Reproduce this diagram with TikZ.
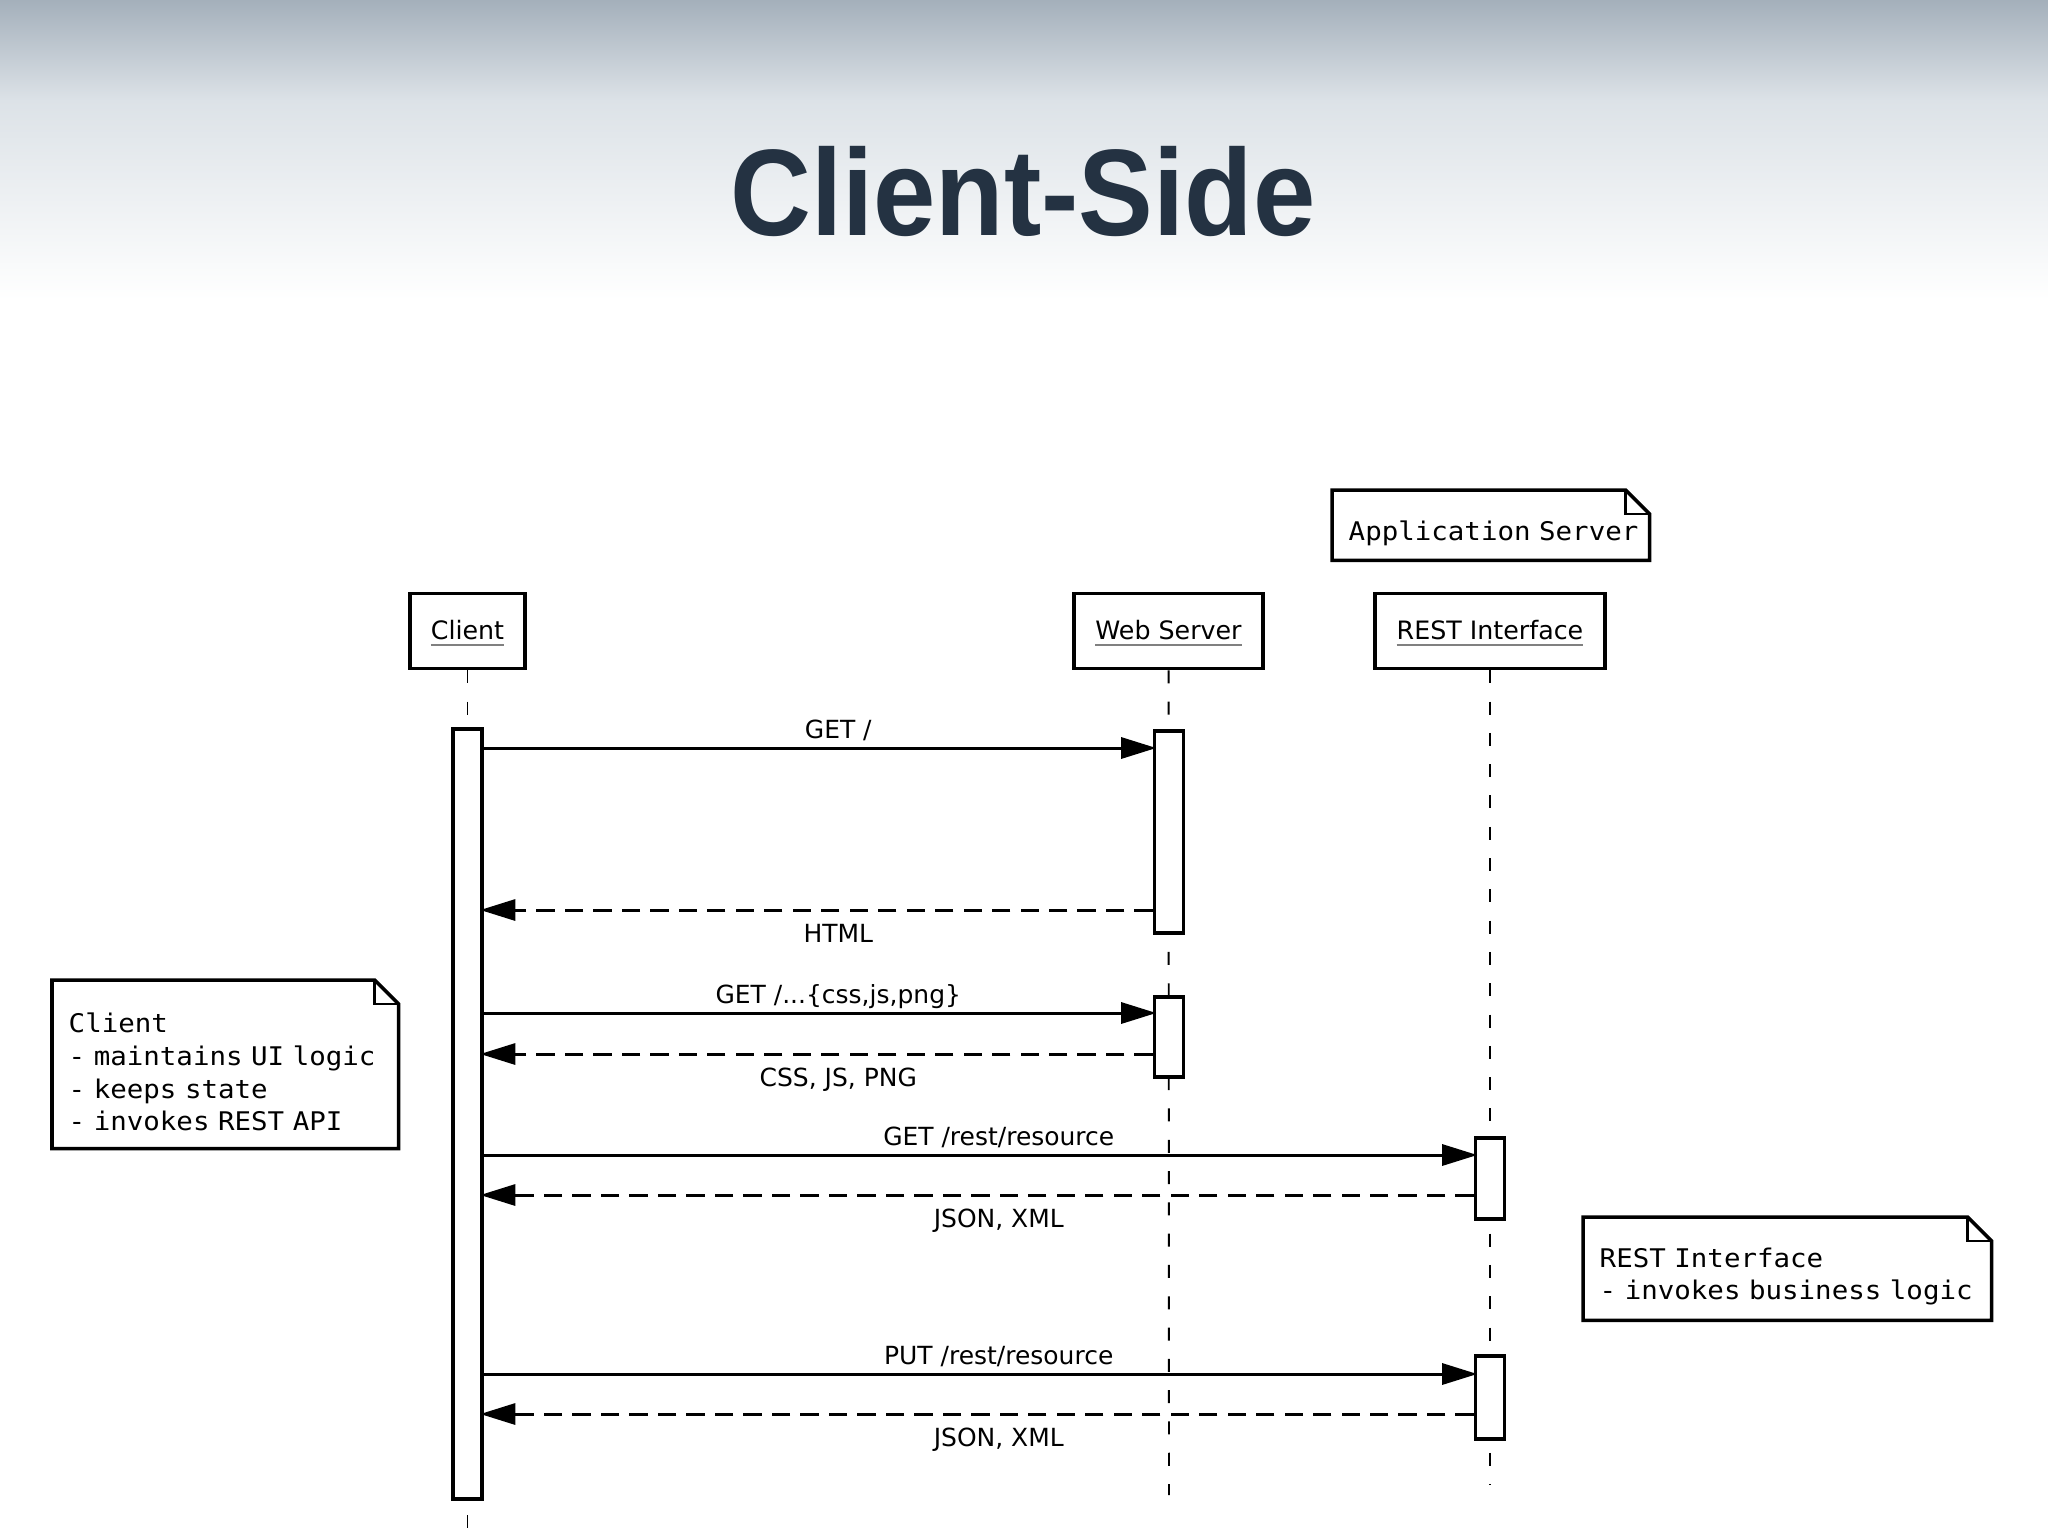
\documentclass[tikz,border=0pt]{standalone}
\usepackage{fontspec}
\setmainfont{DejaVu Sans}
\newfontfamily\monofont[FakeStretch=1.07]{DejaVu Sans Mono}
\newfontfamily\titlefont[FakeStretch=0.91]{Liberation Sans}
\usepackage{tikz}
\usetikzlibrary{positioning, arrows.meta}
\definecolor{titlenavy}{HTML}{243242}
\definecolor{skygray}{HTML}{A4B0BB}
\definecolor{mistgray}{HTML}{DCE2E7}

\newcommand{\lifename}[1]{\textcolor{gray}{\underline{\textcolor{black}{#1}}}}
\newcommand{\foldnote}[1]{%
  \draw[line width=1pt] (#1.north west) -- ([xshift=-0.24cm]#1.north east)
    -- ([yshift=-0.24cm]#1.north east) -- (#1.south east) -- (#1.south west) -- cycle;
  \draw[line width=0.8pt] ([xshift=-0.24cm]#1.north east) |- ([yshift=-0.24cm]#1.north east);
}

\begin{document}
\begin{tikzpicture}[x=0.01cm, y=-0.01cm,
    head/.style={draw, line width=1pt, minimum height=0.75cm, inner sep=0pt,
                 font=\fontsize{7.2}{8}\selectfont, text depth=0.5pt},
    bar/.style={draw, fill=white, line width=1pt, minimum width=0.29cm, inner sep=0pt, anchor=north},
    life/.style={line width=0.55pt, dash pattern=on 3.7pt off 5.2pt},
    call/.style={line width=0.85pt, shorten >=-1pt, -{Triangle[length=10pt, width=6pt]}},
    reply/.style={call, dash pattern=on 5.2pt off 2.9pt},
    msgup/.style={anchor=base, yshift=0.1cm, xshift=0.2cm, font=\fontsize{7.1}{8}\selectfont},
    msgdown/.style={anchor=base, yshift=-0.32cm, xshift=0.2cm, font=\fontsize{7.1}{8}\selectfont},
    note/.style={anchor=north west, align=left, inner xsep=0.16cm, inner ysep=0pt,
                 font=\monofont\fontsize{7.3}{9.3}\selectfont,
                 execute at begin node={\rule{0pt}{10pt}}}]

  \useasboundingbox (0,0) rectangle (2048,1536);
  \fill[white] (0,0) rectangle (2048,1536);
  \shade[top color=skygray, bottom color=mistgray] (0,0) rectangle (2048,100);
  \shade[top color=mistgray, bottom color=white] (0,100) rectangle (2048,300);

  \node[font=\titlefont\bfseries\fontsize{35}{40}\selectfont, text=titlenavy, anchor=base]
    (title) at (1023,235) {Client-Side};

  % lifeline heads
  \node[head, minimum width=1.15cm] (hClient) at (467.5,631) {\lifename{Client}};
  \node[head, minimum width=1.89cm] (hWeb) at (1168.5,631) {\lifename{Web Server}};
  \node[head, minimum width=2.30cm] (hRest) at (1490,631) {\lifename{REST Interface}};

  \coordinate (cEnd) at (467.5,1536);
  \coordinate (wEnd) at (1169,1495);
  \coordinate (rEnd) at (1490,1485);
  \draw[life] (hClient) -- (cEnd);
  \draw[life] (hWeb) -- (wEnd);
  \draw[life] (hRest) -- (rEnd);

  % activations
  \node[bar, minimum height=7.70cm] (actC) at (467.5,727) {};
  \node[bar, minimum height=2.02cm] (actW1) at (1169,729) {};
  \node[bar, minimum height=0.80cm] (actW2) at (1169,995) {};
  \node[bar, minimum height=0.81cm] (actR1) at (1490,1136) {};
  \node[bar, minimum height=0.83cm] (actR2) at (1490,1354) {};

  % messages
  \coordinate (m1) at (0,748);
  \coordinate (m2) at (0,910);
  \coordinate (m3) at (0,1013);
  \coordinate (m4) at (0,1054);
  \coordinate (m5) at (0,1155);
  \coordinate (m6) at (0,1195);
  \coordinate (m7) at (0,1374);
  \coordinate (m8) at (0,1414);

  \draw[call] (actC.east |- m1) -- node[msgup] (tGet) {GET /} (actW1.west |- m1);
  \draw[reply] (actW1.west |- m2) -- node[msgdown] (tHtml) {HTML} (actC.east |- m2);
  \draw[call] (actC.east |- m3) -- node[msgup] (tStatic) {GET /...\{css,js,png\}} (actW2.west |- m3);
  \draw[reply] (actW2.west |- m4) -- node[msgdown] (tFiles) {CSS, JS, PNG} (actC.east |- m4);
  \draw[call] (actC.east |- m5) -- node[msgup] (tRestGet) {GET /rest/resource} (actR1.west |- m5);
  \draw[reply] (actR1.west |- m6) -- node[msgdown] (tJson1) {JSON, XML} (actC.east |- m6);
  \draw[call] (actC.east |- m7) -- node[msgup] (tRestPut) {PUT /rest/resource} (actR2.west |- m7);
  \draw[reply] (actR2.west |- m8) -- node[msgdown] (tJson2) {JSON, XML} (actC.east |- m8);

  % notes
  \node[note, text width=2.84cm, minimum height=0.69cm] (nApp) at (1332,490)
    {\mbox{Application Server}};
  \foldnote{nApp}
  \node[note, text width=3.13cm, minimum height=1.67cm] (nClient) at (52,980)
    {Client\\- maintains UI logic\\- keeps state\\- invokes REST API};
  \foldnote{nClient}
  \node[note, text width=3.75cm, minimum height=1.02cm] (nRest) at (1583,1217)
    {REST Interface\\- invokes business logic};
  \foldnote{nRest}
\end{tikzpicture}
\end{document}
